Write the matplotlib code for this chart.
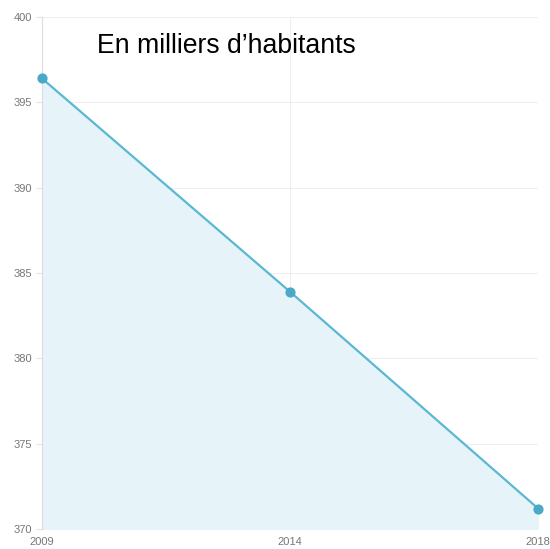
import matplotlib.pyplot as plt
import numpy as np

years = ["2009", "2014", "2018"]
population = [396.4, 383.9, 371.2]
y_ticks = [370, 375, 380, 385, 390, 395, 400]

plt.rcParams['font.family'] = ['Liberation Sans', 'DejaVu Sans']

fig = plt.figure(figsize=(5.5, 5.49), dpi=100)
ax = fig.add_axes([0.0764, 0.0364, 0.902, 0.9326])

x = np.arange(len(years))
ax.fill_between(x, population, 370, color="#e6f4f9", zorder=1)
ax.plot(x, population, color="#5ab8d3", lw=1.6, zorder=3)
ax.scatter(x, population, s=40, color="#4aa8c8", zorder=4, clip_on=False)

ax.set_xlim(0, 2)
ax.set_ylim(370, 400)
ax.set_xticks(x)
ax.set_xticklabels(years)
ax.set_yticks(y_ticks)
ax.grid(True, color="#eeeeee", lw=0.8, zorder=0)
ax.set_axisbelow(True)
for s in ["top", "right", "bottom"]:
    ax.spines[s].set_visible(False)
ax.spines["left"].set_color("#dddddd")
ax.tick_params(axis="y", length=4, color="#e4e4e4", labelsize=8, labelcolor="#777777", pad=3)
ax.tick_params(axis="x", length=0, labelsize=8, labelcolor="#777777", pad=6)

fig.text(97 / 550, 1 - 46 / 549, "En milliers d\u2019habitants", fontsize=19.2,
         color="black", va="center", ha="left")

fig.savefig("out.png", dpi=100)
